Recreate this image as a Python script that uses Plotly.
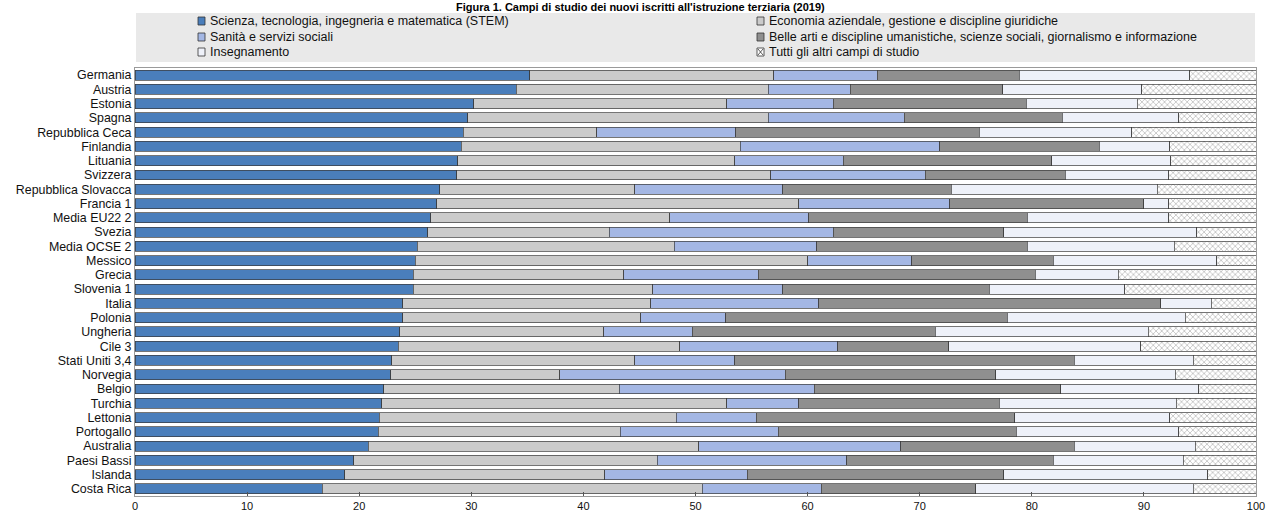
import plotly.graph_objects as go

categories = ["Germania", "Austria", "Estonia", "Spagna", "Repubblica Ceca", "Finlandia",
              "Lituania", "Svizzera", "Repubblica Slovacca", "Francia 1", "Media EU22 2",
              "Svezia", "Media OCSE 2", "Messico", "Grecia", "Slovenia 1", "Italia", "Polonia",
              "Ungheria", "Cile 3", "Stati Uniti 3,4", "Norvegia", "Belgio", "Turchia",
              "Lettonia", "Portogallo", "Australia", "Paesi Bassi", "Islanda", "Costa Rica"]

series_names = ["Scienza, tecnologia, ingegneria e matematica (STEM)",
                "Economia aziendale, gestione e discipline giuridiche",
                "Sanità e servizi sociali",
                "Belle arti e discipline umanistiche, scienze sociali, giornalismo e informazione",
                "Insegnamento",
                "Tutti gli altri campi di studio"]

title_text = "Figura 1. Campi di studio dei nuovi iscritti all'istruzione terziaria (2019)"

stem = [35.2, 34.0, 30.2, 29.7, 29.3, 29.1, 28.8, 28.7, 27.2, 26.9, 26.4, 26.1, 25.2, 25.0, 24.8,
        24.8, 23.9, 23.9, 23.6, 23.5, 22.9, 22.8, 22.2, 22.0, 21.8, 21.7, 20.8, 19.5, 18.7, 16.7]
economia = [21.8, 22.5, 22.6, 26.8, 11.9, 24.9, 24.7, 28.0, 17.4, 32.3, 21.3, 16.2, 22.9, 35.0, 18.8,
            21.4, 22.1, 21.2, 18.2, 25.1, 21.7, 15.1, 21.0, 30.8, 26.5, 21.6, 29.5, 27.1, 23.2, 33.9]
sanita = [9.2, 7.3, 9.5, 12.1, 12.4, 17.8, 9.7, 13.8, 13.2, 13.5, 12.4, 20.0, 12.7, 9.3, 12.0,
          11.6, 15.0, 7.6, 7.9, 14.1, 8.9, 20.1, 17.4, 6.4, 7.1, 14.1, 18.0, 16.9, 12.7, 10.6]
belle_arti = [12.7, 13.6, 17.2, 14.1, 21.7, 14.2, 18.6, 12.5, 15.0, 17.3, 19.5, 15.2, 18.8, 12.6, 24.7,
              18.4, 30.5, 25.1, 21.7, 9.9, 30.3, 18.8, 22.0, 17.9, 23.1, 21.2, 15.5, 18.4, 22.9, 13.8]
insegnamento = [15.2, 12.4, 9.9, 10.4, 13.6, 6.3, 10.6, 9.2, 18.4, 2.2, 12.6, 17.2, 13.1, 14.6, 7.4,
                12.1, 4.5, 15.9, 19.0, 17.1, 10.6, 16.0, 12.3, 15.8, 13.8, 14.5, 10.8, 11.6, 18.2, 19.4]
altri = [5.9, 10.2, 10.6, 6.9, 11.1, 7.7, 7.6, 7.8, 8.8, 7.8, 7.8, 5.3, 7.3, 3.5, 12.3,
         11.7, 4.0, 6.3, 9.6, 10.3, 5.6, 7.2, 5.1, 7.1, 7.7, 6.9, 5.4, 6.5, 4.3, 5.6]

x_ticks = [0, 10, 20, 30, 40, 50, 60, 70, 80, 90, 100]

colors = ["#4a7ebb", "#cbcbcb", "#a4b7e4", "#8f8f8f", "#eef1f9", "#ffffff"]
values = [stem, economia, sanita, belle_arti, insegnamento, altri]

FONT = "Liberation Sans, Arial, sans-serif"

fig = go.Figure()
for i, (name, vals) in enumerate(zip(series_names, values)):
    marker = dict(color=colors[i], line=dict(color="#3a3a3a", width=0.7))
    if i == 5:
        marker["pattern"] = dict(shape="x", fgcolor="#7a7a7a", bgcolor="#ffffff",
                                 size=4, solidity=0.35)
    fig.add_trace(go.Bar(y=categories, x=vals, name=name, orientation="h",
                         marker=marker, showlegend=False))

# plot-area geometry (pixels) for the custom legend panel
W, H = 1272, 521
L, R, T, B = 135, 16, 68, 25
pw, ph = W - L - R, H - T - B


def px(x):
    return (x - L) / pw


def py(y):
    return (H - B - y) / ph


shapes = [dict(type="rect", xref="paper", yref="paper", x0=px(136), x1=px(1255),
               y0=py(62), y1=py(13), fillcolor="#e9e9e9", line=dict(width=0), layer="below")]
annotations = [dict(text="<b>" + title_text + "</b>", xref="paper", yref="paper",
                    x=px(640), y=py(7), xanchor="center", yanchor="middle", showarrow=False,
                    font=dict(family=FONT, size=11, color="#000000"))]
legend_pos = [(198, 21), (757, 21), (198, 37), (757, 37), (198, 52), (757, 52)]
for idx, (lx, ly) in enumerate(legend_pos):
    shapes.append(dict(type="rect", xref="paper", yref="paper", x0=px(lx), x1=px(lx + 7),
                       y0=py(ly + 4), y1=py(ly - 4), fillcolor=colors[idx],
                       line=dict(color="#333333", width=0.8)))
    if idx == 5:
        shapes.append(dict(type="line", xref="paper", yref="paper", x0=px(lx + 1), x1=px(lx + 6),
                           y0=py(ly + 3), y1=py(ly - 3), line=dict(color="#333333", width=0.8)))
        shapes.append(dict(type="line", xref="paper", yref="paper", x0=px(lx + 1), x1=px(lx + 6),
                           y0=py(ly - 3), y1=py(ly + 3), line=dict(color="#333333", width=0.8)))
    annotations.append(dict(text=series_names[idx], xref="paper", yref="paper",
                            x=px(lx + 10), y=py(ly), xanchor="left", yanchor="middle",
                            showarrow=False, font=dict(family=FONT, size=12.5, color="#111111")))

fig.update_layout(
    width=W, height=H,
    barmode="stack", bargap=0.3,
    margin=dict(l=L, r=R, t=T, b=B, autoexpand=False),
    paper_bgcolor="white", plot_bgcolor="white",
    font=dict(family=FONT, size=12, color="#111111"),
    shapes=shapes, annotations=annotations,
    xaxis=dict(range=[0, 100], tickvals=x_ticks, ticks="inside", ticklen=4,
               tickcolor="#555555", showgrid=False, zeroline=False, showline=True,
               linecolor="#9a9a9a", mirror=True, tickfont=dict(size=11), automargin=False),
    yaxis=dict(autorange="reversed", tickmode="array", tickvals=categories,
               showgrid=False, showline=True, linecolor="#9a9a9a",
               mirror=True, ticks="", tickfont=dict(size=12.4), automargin=False),
)

fig.write_html("out.html", config={"displayModeBar": False},
               post_script="document.body.style.margin='0px';")
